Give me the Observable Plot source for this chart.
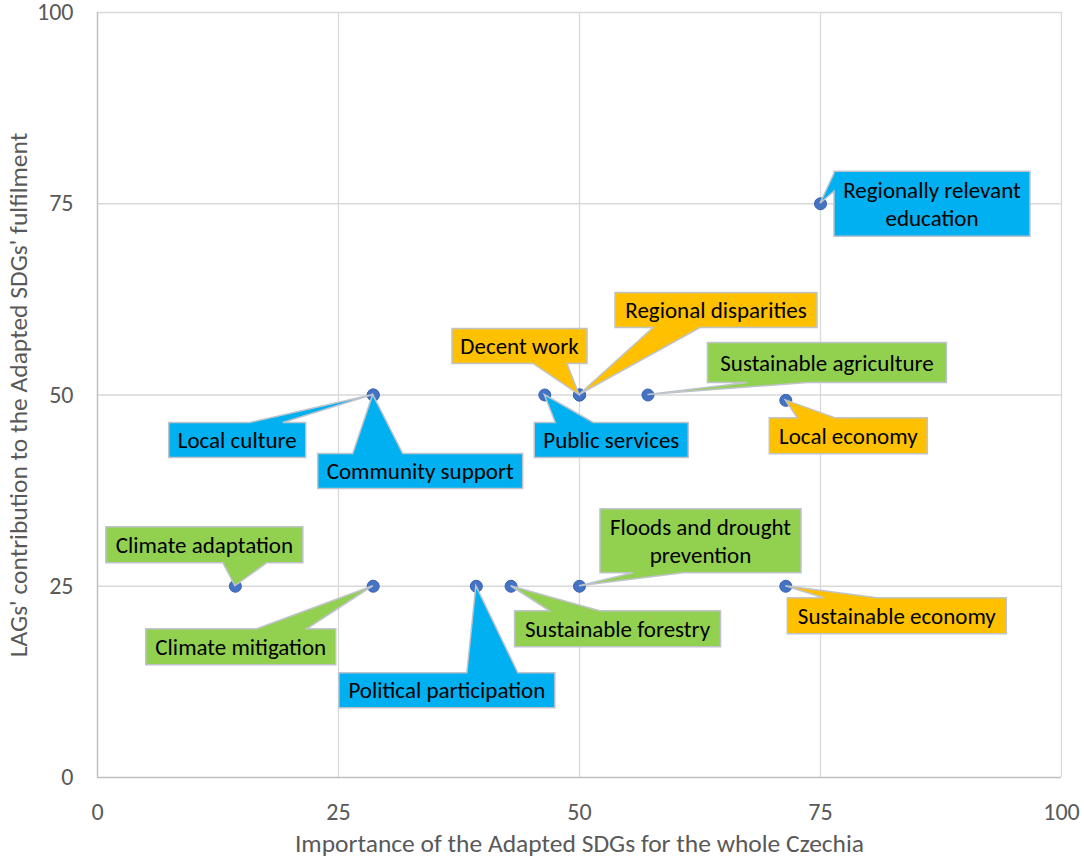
<!DOCTYPE html>
<html><head><meta charset="utf-8">
<script src="https://cdn.jsdelivr.net/npm/d3@7"></script>
<script src="https://cdn.jsdelivr.net/npm/@observablehq/plot@0.6"></script>
<style>body{margin:0;background:#fff}</style>
</head><body><div id="chart"></div>
<script>
// ---------------- data ----------------
const labels = [
  "Regionally relevant education", "Regional disparities", "Decent work", "Public services",
  "Sustainable agriculture", "Local economy", "Local culture", "Community support",
  "Climate adaptation", "Climate mitigation", "Political participation", "Sustainable forestry",
  "Floods and drought prevention", "Sustainable economy"
];
const importance   = [75, 50, 50, 46.4, 57.1, 71.4, 28.6, 28.6, 14.3, 28.6, 39.3, 42.9, 50, 71.4];
const contribution = [75, 50, 50, 50,   50,   49.3, 50,   50,   25,   25,   25,   25,   25, 25];
const category = ["Social", "Economic", "Economic", "Social", "Environmental", "Economic", "Social", "Social",
  "Environmental", "Environmental", "Social", "Environmental", "Environmental", "Economic"];
const categories = ["Social", "Economic", "Environmental"];
const xTicks = [0, 25, 50, 75, 100];
const yTicks = [0, 25, 50, 75, 100];
const xTitle = "Importance of the Adapted SDGs for the whole Czechia";
const yTitle = "LAGs' contribution to the Adapted SDGs' fulfilment";

const data = labels.map((label, i) => ({label, x: importance[i], y: contribution[i], category: category[i]}));

// ---------------- callout layout (pixels, relative to the point) ----------------
const layout = {
  "Regionally relevant education": {l: 14, t: -32, w: 196, h: 65, side: "left", b: [-30, -12], br: 2},
  "Regional disparities":          {l: 36, t: -102, w: 202, h: 35, side: "bottom", b: [74, 121]},
  "Decent work":                   {l: -127, t: -66, w: 135, h: 35, side: "bottom", b: [-46, -12]},
  "Public services":               {l: -10, t: 28, w: 154, h: 35, side: "top", b: [11, 49]},
  "Sustainable agriculture":       {l: 60, t: -52, w: 239, h: 40, side: "bottom", b: [100, 160]},
  "Local economy":                 {l: -16, t: 18, w: 158, h: 36, side: "top", b: [12, 50]},
  "Local culture":                 {l: -204, t: 28, w: 137, h: 35, side: "top", b: [-123, -90]},
  "Community support":             {l: -55, t: 59, w: 205, h: 35, side: "top", b: [-20, 30]},
  "Climate adaptation":            {l: -129, t: -59, w: 197, h: 36, side: "bottom", b: [-12, 32]},
  "Climate mitigation":            {l: -227, t: 43, w: 190, h: 36, side: "top", b: [-116, -66]},
  "Political participation":       {l: -137, t: 87, w: 216, h: 35, side: "top", b: [-9, 42]},
  "Sustainable forestry":          {l: 4, t: 25, w: 206, h: 36, side: "top", b: [39, 89]},
  "Floods and drought prevention": {l: 21, t: -77, w: 201, h: 64, side: "bottom", b: [54, 104], br: 3},
  "Sustainable economy":           {l: 2, t: 12, w: 219, h: 36, side: "top", b: [38, 92]}
};

const FONT = "Carlito, Calibri, Lato, sans-serif";
const fillColor = d3.scaleOrdinal(categories, ["#00B0F0", "#FFC000", "#92D050"]);

function calloutPath(o) {
  const L = o.l, T = o.t, R = o.l + o.w, B = o.t + o.h, [b1, b2] = o.b;
  const p = [[L, T]];
  if (o.side === "top") p.push([b1, T], [0, 0], [b2, T]);
  p.push([R, T]);
  p.push([R, B]);
  if (o.side === "bottom") p.push([b2, B], [0, 0], [b1, B]);
  p.push([L, B]);
  if (o.side === "left") p.push([L, b2], [0, 0], [L, b1]);
  return "M" + p.map(q => q.join(",")).join("L") + "Z";
}

function callouts(index, scales) {
  const g = d3.create("svg:g");
  for (const d of data) {
    const o = layout[d.label];
    const px = scales.x(d.x), py = scales.y(d.y);
    const gg = g.append("g").attr("transform", `translate(${px},${py})`);
    gg.append("path").attr("d", calloutPath(o))
      .attr("fill", fillColor(d.category))
      .attr("stroke", "#BFC3CC").attr("stroke-width", 1.5).attr("stroke-linejoin", "miter");
    const words = d.label.split(" ");
    const lines = o.br ? [words.slice(0, o.br).join(" "), words.slice(o.br).join(" ")] : [d.label];
    const cx = o.l + o.w / 2, cy = o.t + o.h / 2;
    const lh = 28;
    lines.forEach((line, j) => {
      gg.append("text").attr("x", cx).attr("y", cy + (j - (lines.length - 1) / 2) * lh)
        .attr("dy", "0.35em").attr("text-anchor", "middle")
        .attr("font-family", FONT).attr("font-size", 23).attr("fill", "#000")
        .text(line);
    });
  }
  return g.node();
}

const chart = Plot.plot({
  width: 1084,
  height: 864,
  marginLeft: 97,
  marginRight: 23,
  marginTop: 12,
  marginBottom: 87,
  style: {fontFamily: FONT, color: "#595959", background: "#fff"},
  x: {domain: [0, 100], label: null},
  y: {domain: [0, 100], label: null},
  marks: [
    Plot.gridX(xTicks.slice(1), {stroke: "#D9D9D9", strokeOpacity: 1, strokeWidth: 1.3}),
    Plot.gridY(yTicks.slice(1), {stroke: "#D9D9D9", strokeOpacity: 1, strokeWidth: 1.3}),
    Plot.ruleX([0], {stroke: "#BFBFBF", strokeWidth: 1.5}),
    Plot.ruleY([0], {stroke: "#BFBFBF", strokeWidth: 1.5}),
    Plot.axisX(xTicks, {tickSize: 0, tickPadding: 25, fontSize: 24, label: null, fill: "#595959"}),
    Plot.axisY(yTicks, {tickSize: 0, tickPadding: 24, fontSize: 24, label: null, fill: "#595959"}),
    Plot.text([xTitle], {frameAnchor: "bottom", dy: 74, fontSize: 25.5, fill: "#595959", text: d => d}),
    Plot.text([yTitle], {frameAnchor: "left", dx: -79, rotate: -90, textAnchor: "middle", fontSize: 25.5, fill: "#595959", text: d => d}),
    Plot.dot(data, {x: "x", y: "y", r: 6, fill: "#4472C4", stroke: "#3B64AE", strokeWidth: 1}),
    callouts
  ]
});
document.getElementById("chart").appendChild(chart);
</script>
</body></html>
